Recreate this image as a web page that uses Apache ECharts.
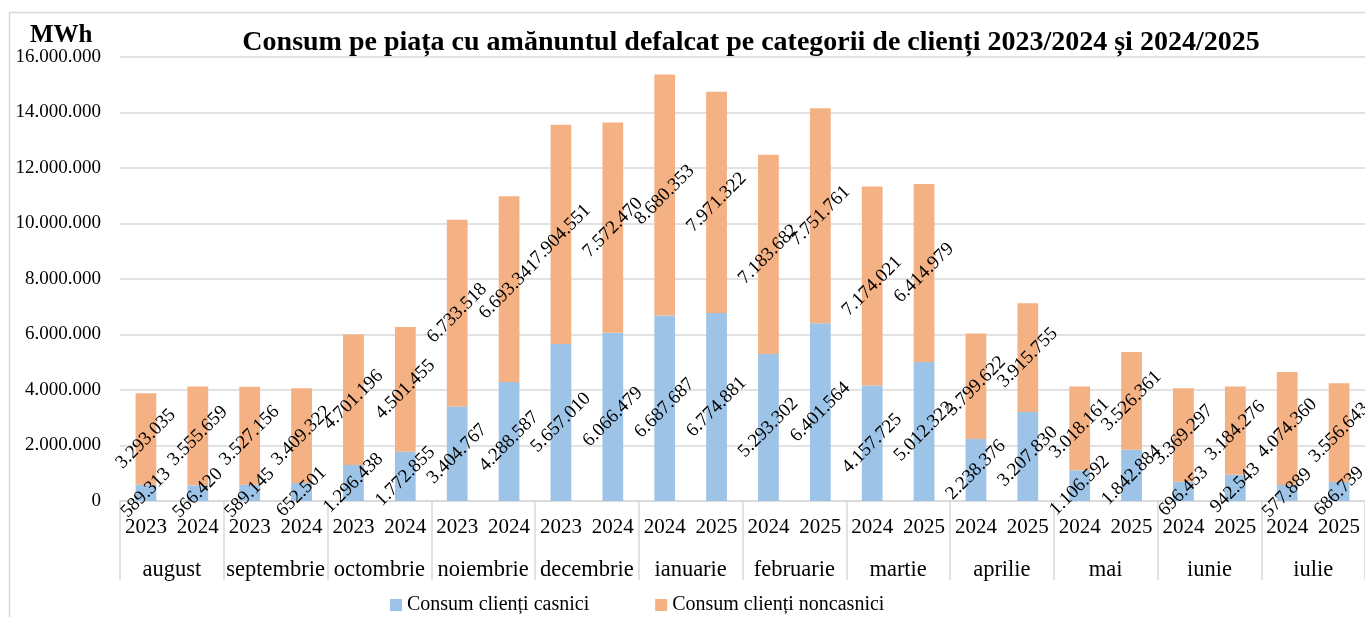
<!DOCTYPE html>
<html>
<head>
<meta charset="utf-8">
<script src="https://cdn.jsdelivr.net/npm/echarts@6/dist/echarts.min.js"></script>
<style>
html,body{margin:0;padding:0;background:#fff;}
#chart{width:1365px;height:617px;}
</style>
</head>
<body>
<div id="chart"></div>
<script>
const months = ['august','septembrie','octombrie','noiembrie','decembrie','ianuarie','februarie','martie','aprilie','mai','iunie','iulie'];
const years = ['2023','2024','2023','2024','2023','2024','2023','2024','2023','2024','2024','2025','2024','2025','2024','2025','2024','2025','2024','2025','2024','2025','2024','2025'];
const casnici = [589313,566420,589145,652501,1296438,1772855,3404767,4288587,5657010,6066479,6687687,6774881,5293302,6401564,4157725,5012322,2238376,3207830,1106592,1842884,696453,942543,577889,686739];
const noncasnici = [3293035,3555659,3527156,3409322,4701196,4501455,6733518,6693341,7904551,7572470,8680353,7971322,7183682,7751761,7174021,6414979,3799622,3915755,3018161,3526361,3369297,3184276,4074360,3556643];
const seriesNames = ['Consum clienți casnici','Consum clienți noncasnici'];
const titleText = 'Consum pe piața cu amănuntul defalcat pe categorii de clienți 2023/2024 și 2024/2025';
const unitText = 'MWh';

const FONT = '"Liberation Serif", "Times New Roman", serif';
function fmt(v){ return String(Math.round(v)).replace(/\B(?=(\d{3})+(?!\d))/g,'.'); }

const chart = echarts.init(document.getElementById('chart'));
const labelCfg = {
  show: true, position: 'inside', rotate: 45, color: '#000',
  fontFamily: FONT, fontSize: 19,
  formatter: p => fmt(p.value)
};
chart.setOption({
  animation: false,
  backgroundColor: '#fff',
  graphic: [
    {type:'rect', shape:{x:9.5,y:12.5,width:1380,height:640}, style:{fill:'none', stroke:'#d9d9d9', lineWidth:1.5}, z:-1},
    {type:'text', left: 30, top: 23, style:{text: unitText, font: 'bold 25px ' + FONT, fill:'#000'}}
  ],
  title: {
    text: titleText, left: 746, textAlign: 'center', top: 24,
    textStyle: {fontFamily: FONT, fontWeight: 'bold', fontSize: 28, color: '#000'}
  },
  legend: {
    data: seriesNames, left: 385, top: 590, itemWidth: 12, itemHeight: 12, itemGap: 66, icon: 'rect',
    textStyle: {fontFamily: FONT, fontSize: 20, color: '#000'}
  },
  grid: {left: 120, top: 57, width: 1246, height: 444},
  xAxis: [
    {
      type: 'category', data: years, position: 'bottom',
      axisLine: {lineStyle: {color: '#d9d9d9', width: 1.5}},
      axisTick: {show: false},
      axisLabel: {color: '#000', fontFamily: FONT, fontSize: 21, margin: 16, interval: 0}
    },
    {
      type: 'category', data: months, position: 'bottom', gridIndex: 0,
      axisLine: {show: false},
      axisTick: {show: true, length: 79, lineStyle: {color: '#d9d9d9', width: 1.5}, interval: 0},
      axisLabel: {color: '#000', fontFamily: FONT, fontSize: 22.5, margin: 58, interval: 0}
    }
  ],
  yAxis: {
    type: 'value', min: 0, max: 16000000, interval: 2000000,
    axisLine: {show: false}, axisTick: {show: false},
    splitLine: {lineStyle: {color: '#d9d9d9', width: 1.5}},
    axisLabel: {color: '#000', fontFamily: FONT, fontSize: 19, margin: 19, formatter: v => fmt(v)}
  },
  series: [
    {name: seriesNames[0], type: 'bar', stack: 'a', data: casnici, barWidth: '40%', xAxisIndex: 0,
     itemStyle: {color: '#9DC3E6'}, label: labelCfg},
    {name: seriesNames[1], type: 'bar', stack: 'a', data: noncasnici, barWidth: '40%', xAxisIndex: 0,
     itemStyle: {color: '#F4B183'}, label: labelCfg}
  ]
});
</script>
</body>
</html>
